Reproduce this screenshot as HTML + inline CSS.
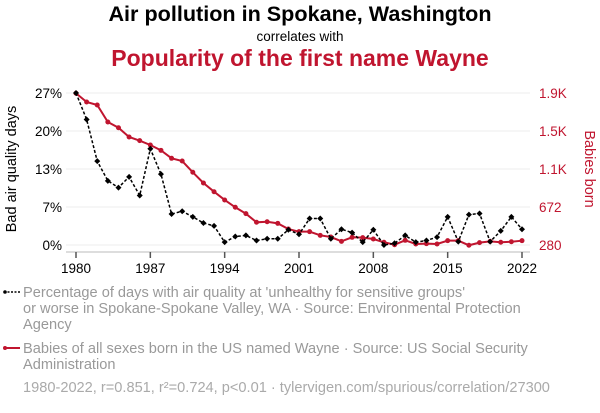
<!DOCTYPE html>
<html><head><meta charset="utf-8">
<style>
body{margin:0;background:#fff;width:600px;height:408px;overflow:hidden;font-family:"Liberation Sans",sans-serif;}
svg text{font-family:"Liberation Sans",sans-serif;}
</style></head>
<body>
<svg id="chart" width="600" height="408" xmlns="http://www.w3.org/2000/svg">
<text x="300" y="21" text-anchor="middle" font-size="21.6" font-weight="bold" fill="#000">Air pollution in Spokane, Washington</text>
<text x="300" y="41" text-anchor="middle" font-size="13.5" fill="#000">correlates with</text>
<text x="300" y="66" text-anchor="middle" font-size="23" font-weight="bold" fill="#c0152f">Popularity of the first name Wayne</text>
<g id="grid"></g>
<g id="axes"></g>
<g id="series"></g>
<text transform="translate(16,169) rotate(-90)" text-anchor="middle" font-size="14.5" fill="#000">Bad air quality days</text>
<text transform="translate(585,169) rotate(90)" text-anchor="middle" font-size="14.5" fill="#c0152f">Babies born</text>
<g>
<line x1="4" y1="292" x2="20" y2="292" stroke="#000" stroke-width="1.5" stroke-dasharray="2,1.5"/>
<circle cx="5" cy="292" r="1.8" fill="#000"/>
<text x="23" y="297" font-size="14.6" fill="#999">Percentage of days with air quality at 'unhealthy for sensitive groups'</text>
<text x="23" y="313" font-size="14.6" fill="#999">or worse in Spokane-Spokane Valley, WA · Source: Environmental Protection</text>
<text x="23" y="329" font-size="14.6" fill="#999">Agency</text>
</g>
<g>
<line x1="4" y1="348" x2="20" y2="348" stroke="#c0152f" stroke-width="2"/>
<circle cx="5" cy="348" r="2" fill="#c0152f"/>
<text x="23" y="353" font-size="14.6" fill="#999">Babies of all sexes born in the US named Wayne · Source: US Social Security</text>
<text x="23" y="369" font-size="14.6" fill="#999">Administration</text>
</g>
<text x="23" y="392" font-size="14.6" fill="#aaa">1980-2022, r=0.851, r²=0.724, p&lt;0.01 · tylervigen.com/spurious/correlation/27300</text>
</svg>
<script>
const years=[];for(let y=1980;y<=2022;y++)years.push(y);
const airPct=[27,22.3,14.9,11.4,10.2,12.1,8.8,17.1,12.6,5.5,6.0,5.0,3.9,3.4,0.5,1.5,1.7,0.8,1.1,1.1,2.7,1.9,4.7,4.7,1.1,2.8,2.2,0.5,2.7,0,0.3,1.7,0.5,0.8,1.4,5.0,0.6,5.4,5.6,0.6,2.5,5.0,2.8];
const babies=[1897,1804,1772,1591,1530,1431,1392,1346,1289,1204,1175,1055,941,848,760,682,614,522,528,511,450,422,422,383,365,319,362,358,344,309,283,330,291,294,291,326,326,277,305,319,309,315,326];
const leftTicks=[0,6.75,13.5,20.25,27];
const leftLabels=["0%","7%","13%","20%","27%"];
const rightTicks=[280,685,1090,1495,1900];
const rightLabels=["280","672","1.1K","1.5K","1.9K"];
const xTicks=[1980,1987,1994,2001,2008,2015,2022];
const NS="http://www.w3.org/2000/svg";
const X0=76,X1=522,YT=93,YB=245;
const x=v=>X0+(v-1980)/(42)*(X1-X0);
const yL=v=>YB-v/27*(YB-YT);
const yR=v=>YB-(v-280)/1620*(YB-YT);
function mk(tag,attrs,parent){const e=document.createElementNS(NS,tag);for(const k in attrs)e.setAttribute(k,attrs[k]);parent.appendChild(e);return e;}
const grid=document.getElementById('grid'),axes=document.getElementById('axes'),ser=document.getElementById('series');
leftTicks.forEach((t,i)=>{
 const g=mk('line',{x1:66,x2:530,y1:yL(t),y2:yL(t),stroke:'#eee','stroke-width':1},grid);
 
 
 const l=mk('text',{x:62,y:yL(t)+5,'text-anchor':'end','font-size':13.5,fill:'#000'},axes);l.textContent=leftLabels[i];
 
 
});
rightTicks.forEach((t,i)=>{
 const l=mk('text',{x:539,y:yR(t)+5,'font-size':13.5,fill:'#c0152f'},axes);l.textContent=rightLabels[i];
 
 
});
const ax=mk('line',{x1:66,x2:530,y1:252,y2:252,stroke:'#bbb','stroke-width':1},axes);


xTicks.forEach(t=>{
 const tk=mk('line',{x1:x(t),x2:x(t),y1:252,y2:258,stroke:'#555','stroke-width':1.5},axes);
 
 
 const l=mk('text',{x:x(t),y:273,'text-anchor':'middle','font-size':13.5,fill:'#000'},axes);l.textContent=t;
 
 
});
const rp=mk('polyline',{points:years.map((y,i)=>x(y)+','+yR(babies[i])).join(' '),fill:'none',stroke:'#c0152f','stroke-width':2},ser);


babies.forEach((v,i)=>{const c=mk('circle',{cx:x(years[i]),cy:yR(v),r:2.5,fill:'#c0152f'},ser);
 
 });
const bp=mk('polyline',{points:years.map((y,i)=>x(y)+','+yL(airPct[i])).join(' '),fill:'none',stroke:'#000','stroke-width':1.5,'stroke-dasharray':'3,2'},ser);


airPct.forEach((v,i)=>{const cx=x(years[i]),cy=yL(v);
 const d=mk('path',{d:`M${cx} ${cy-3}L${cx+3} ${cy}L${cx} ${cy+3}L${cx-3} ${cy}Z`,fill:'#000'},ser);
 
 });
</script>
</body></html>
